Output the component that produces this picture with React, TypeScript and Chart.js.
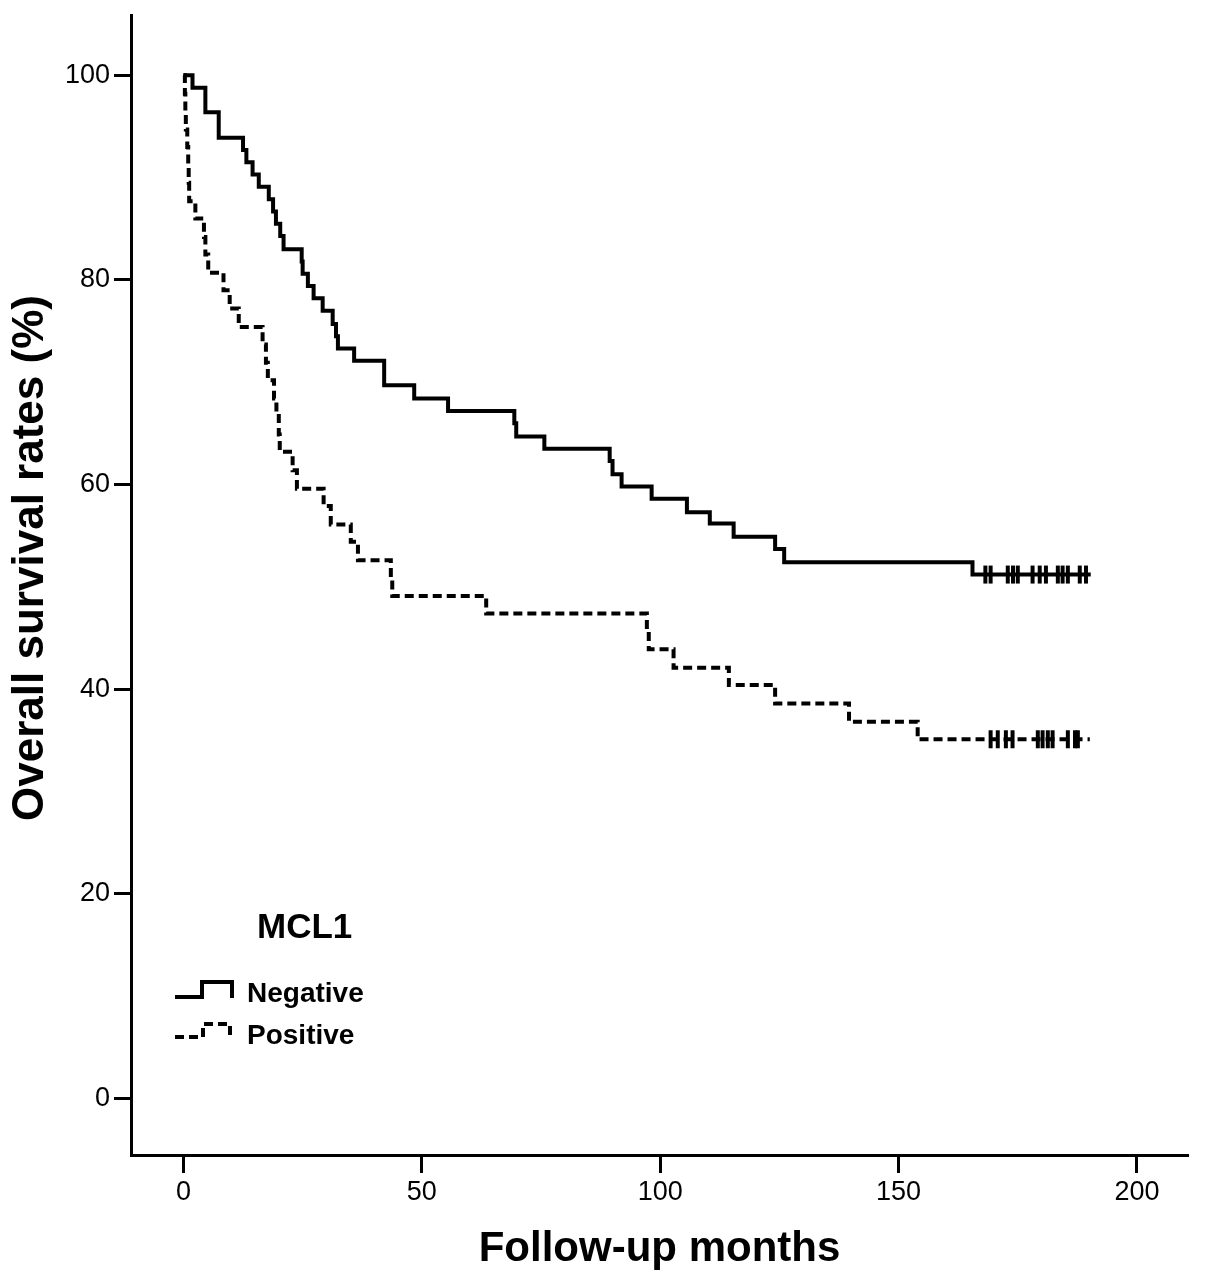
import React, { useEffect, useRef } from "react";
import { Chart, registerables } from "chart.js";

Chart.register(...registerables);

const FONT = "'Liberation Sans', Arial, Helvetica, sans-serif";

// Kaplan-Meier step points (event time in months, survival % after the event)
const negTimes = [0, 1.9, 4.6, 7.4, 12.5, 13.2, 14.5, 15.8, 17.9, 18.8, 19.4, 20.3, 21.0, 24.8, 25.0, 26.1, 27.3, 29.2, 31.3, 32.0, 32.4, 35.8, 42.1, 48.4, 55.5, 69.4, 69.8, 75.7, 89.4, 90.0, 91.9, 98.2, 105.6, 110.4, 115.4, 124.1, 126.0, 165.5, 190.3];
const negSurv = [100, 98.8, 96.4, 93.9, 92.7, 91.5, 90.3, 89.1, 87.9, 86.7, 85.5, 84.3, 83.0, 81.8, 80.6, 79.4, 78.2, 77.0, 75.7, 74.5, 73.3, 72.1, 69.7, 68.4, 67.2, 66.0, 64.7, 63.5, 62.3, 61.0, 59.8, 58.6, 57.3, 56.2, 54.9, 53.7, 52.4, 51.2, 51.2];

const posTimes = [0, 0.3, 0.4, 0.5, 0.8, 1.0, 1.1, 1.2, 2.5, 4.3, 4.6, 5.2, 8.4, 9.7, 11.6, 16.6, 17.3, 17.7, 19.0, 19.5, 20.0, 20.2, 22.9, 23.8, 29.4, 30.9, 35.1, 36.6, 43.5, 43.8, 63.5, 97.2, 97.6, 102.8, 114.4, 124.1, 139.6, 154.0, 190.1];
const posSurv = [100, 98.2, 96.5, 94.7, 93.0, 91.2, 89.5, 87.7, 86.0, 84.2, 82.5, 80.7, 79.0, 77.2, 75.4, 73.7, 71.9, 70.2, 68.4, 66.7, 64.9, 63.2, 61.4, 59.6, 57.9, 56.1, 54.4, 52.6, 50.9, 49.1, 47.4, 45.6, 43.9, 42.1, 40.4, 38.6, 36.8, 35.1, 35.1];

// censored observations (months)
const negCensor = [168.2, 169.3, 172.9, 174.0, 175.0, 178.1, 179.6, 180.9, 183.4, 184.4, 185.5, 188.0, 189.3];
const posCensor = [169.3, 170.8, 172.5, 173.9, 179.2, 180.2, 181.3, 182.3, 185.5, 187.0, 187.6];

const xTicks = [0, 50, 100, 150, 200];
const yTicks = [0, 20, 40, 60, 80, 100];

const groupLabels = ["Negative", "Positive"];
const legendTitle = "MCL1";
const xTitle = "Follow-up months";
const yTitle = "Overall survival rates (%)";

const kmDecor = {
  id: "kmDecor",
  afterDraw(chart: any) {
    const { ctx, chartArea } = chart;
    const L = chartArea.left;
    ctx.save();
    ctx.fillStyle = "#000";
    ctx.strokeStyle = "#000";
    ctx.textAlign = "left";
    ctx.textBaseline = "alphabetic";
    ctx.font = `bold 35px ${FONT}`;
    ctx.fillText(legendTitle, L + 126, 938);
    ctx.font = `bold 28px ${FONT}`;
    ctx.fillText(groupLabels[0], L + 116, 1002);
    ctx.fillText(groupLabels[1], L + 116, 1044);

    ctx.lineWidth = 4;
    ctx.lineCap = "butt";
    ctx.lineJoin = "miter";
    ctx.beginPath();
    ctx.moveTo(L + 44, 997);
    ctx.lineTo(L + 71, 997);
    ctx.lineTo(L + 71, 982);
    ctx.lineTo(L + 101, 982);
    ctx.lineTo(L + 101, 998);
    ctx.stroke();

    ctx.setLineDash([9, 5]);
    ctx.beginPath();
    ctx.moveTo(L + 44, 1037);
    ctx.lineTo(L + 72, 1037);
    ctx.lineTo(L + 72, 1024);
    ctx.lineTo(L + 99, 1024);
    ctx.lineTo(L + 99, 1037);
    ctx.stroke();
    ctx.setLineDash([]);

    ctx.translate(31, 558);
    ctx.rotate(-Math.PI / 2);
    ctx.textAlign = "center";
    ctx.textBaseline = "middle";
    ctx.font = `bold 44px ${FONT}`;
    ctx.fillText(yTitle, 0, 0);
    ctx.restore();
  },
};

export default function App() {
  const ref = useRef<HTMLCanvasElement>(null);

  useEffect(() => {
    if (!ref.current) return;
    const negLast = negSurv[negSurv.length - 1];
    const posLast = posSurv[posSurv.length - 1];
    const chart = new Chart(ref.current, {
      type: "line",
      data: {
        datasets: [
          {
            label: groupLabels[0],
            data: negTimes.map((t, i) => ({ x: t, y: negSurv[i] })),
            borderColor: "#000",
            borderWidth: 4,
            stepped: "before",
            pointRadius: 0,
            fill: false,
          },
          {
            label: groupLabels[1],
            data: posTimes.map((t, i) => ({ x: t, y: posSurv[i] })),
            borderColor: "#000",
            borderWidth: 4,
            borderDash: [9, 5],
            stepped: "before",
            pointRadius: 0,
            fill: false,
          },
          {
            label: groupLabels[0] + " censored",
            data: negCensor.map((t) => ({ x: t, y: negLast })),
            showLine: false,
            pointStyle: "line",
            pointRotation: 90,
            pointRadius: 9,
            pointBorderWidth: 4,
            pointBorderColor: "#000",
            pointBackgroundColor: "#000",
          },
          {
            label: groupLabels[1] + " censored",
            data: posCensor.map((t) => ({ x: t, y: posLast })),
            showLine: false,
            pointStyle: "line",
            pointRotation: 90,
            pointRadius: 9,
            pointBorderWidth: 4,
            pointBorderColor: "#000",
            pointBackgroundColor: "#000",
          },
        ],
      } as any,
      options: {
        responsive: false,
        animation: false,
        maintainAspectRatio: false,
        layout: { padding: { left: 0, top: 15, right: 17, bottom: 0 } },
        plugins: {
          legend: { display: false },
          tooltip: { enabled: false },
          title: { display: false },
        },
        scales: {
          x: {
            type: "linear",
            min: -11,
            max: 210.7,
            afterBuildTicks: (s: any) => {
              s.ticks = xTicks.map((v) => ({ value: v }));
            },
            afterFit: (s: any) => {
              s.height = 130;
              s.paddingLeft = 0;
              s.paddingRight = 0;
              s.paddingTop = 0;
              s.paddingBottom = 0;
            },
            ticks: {
              color: "#000",
              font: { family: FONT, size: 27 },
              padding: 3,
              maxRotation: 0,
              autoSkip: false,
            },
            grid: {
              display: true,
              drawOnChartArea: false,
              drawTicks: true,
              tickLength: 18,
              tickWidth: 3,
              tickColor: "#000",
            },
            border: { display: true, color: "#000", width: 3 },
            title: {
              display: true,
              text: xTitle,
              color: "#000",
              font: { family: FONT, size: 42, weight: "bold" },
              padding: { top: 0, bottom: 10 },
            },
          },
          y: {
            type: "linear",
            min: -5.54,
            max: 105.9,
            afterBuildTicks: (s: any) => {
              s.ticks = yTicks.map((v) => ({ value: v }));
            },
            afterFit: (s: any) => {
              s.width = 131;
              s.paddingLeft = 0;
              s.paddingRight = 0;
              s.paddingTop = 0;
              s.paddingBottom = 0;
            },
            ticks: {
              color: "#000",
              font: { family: FONT, size: 27 },
              padding: 4,
              autoSkip: false,
            },
            grid: {
              display: true,
              drawOnChartArea: false,
              drawTicks: true,
              tickLength: 17,
              tickWidth: 3,
              tickColor: "#000",
            },
            border: { display: true, color: "#000", width: 3 },
          },
        },
      } as any,
      plugins: [kmDecor],
    });
    return () => chart.destroy();
  }, []);

  return (
    <div
      style={{
        position: "absolute",
        left: 0,
        top: 0,
        width: 1205,
        height: 1285,
        background: "#fff",
      }}
    >
      <canvas
        ref={ref}
        width={1205}
        height={1285}
        style={{ display: "block", width: 1205, height: 1285 }}
      />
    </div>
  );
}
